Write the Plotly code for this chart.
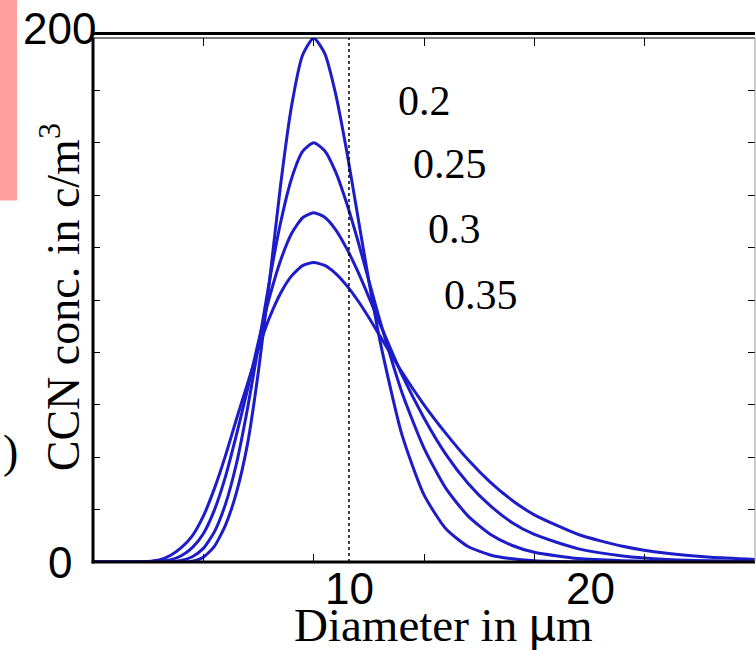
import plotly.graph_objects as go

# Diameter (x) and CCN concentration for the four sigma values
diameter = [0, 1, 2, 3, 3.5, 4, 4.5, 5, 5.5, 6, 6.5, 7, 7.5, 8, 8.5, 9, 9.5, 10,
            10.5, 11, 11.5, 12, 12.5, 13, 14, 15, 16, 17, 18, 19, 20, 22, 24, 26, 28, 30]
ccn_020 = [0, 0, 0, 0, 0, 0, 0.3, 1.8, 6.0, 14.0, 26.5, 45.0, 73.0, 107.3, 143.8, 174.1, 193.5, 200,
           194.1, 178.5, 156.7, 132.0, 107.3, 84.6, 48.6, 25.6, 12.6, 5.9, 2.7, 1.2, 0.5, 0.1, 0, 0, 0, 0]
ccn_025 = [0, 0, 0, 0, 0.1, 0.6, 2.0, 5.2, 11.5, 22.0, 37.5, 58.5, 82.5, 107.4, 129.5, 146.4, 156.7, 160,
           157.0, 148.8, 136.8, 122.7, 107.4, 92.2, 64.7, 43.5, 28.0, 17.5, 10.6, 6.3, 3.7, 1.3, 0.5, 0.2, 0, 0]
ccn_030 = [0, 0, 0, 0.2, 0.8, 2.4, 5.5, 10.8, 19.8, 32.5, 48.5, 65.8, 84.2, 101.1, 115.1, 125.4, 131.4, 133.3,
           131.6, 126.8, 119.6, 110.9, 101.1, 91.0, 71.5, 55.0, 41.0, 30.0, 21.5, 15.0, 10.5, 5.0, 2.3, 1.0, 0.5, 0.2]
ccn_035 = [0, 0, 0, 0.8, 2.5, 5.5, 10.0, 17.5, 28.0, 40.5, 54.5, 68.0, 81.5, 93.3, 102.6, 109.2, 113.1, 114.3,
           113.2, 110.1, 105.5, 99.8, 93.3, 86.3, 72.5, 60.0, 49.0, 39.0, 30.5, 23.5, 18.0, 10.5, 6.0, 3.3, 1.8, 1.0]

series = [ccn_020, ccn_025, ccn_030, ccn_035]
curve_labels = ["0.2", "0.25", "0.3", "0.35"]
label_x = [15.0, 16.2, 16.4, 17.6]
label_y = [176, 152, 127, 102]

x_ticks = [0, 5, 10, 15, 20, 25, 30]
x_tick_text = ["10", "20"]
x_tick_text_pos = [11.64, 22.55]
y_tick_text = ["0", "200"]
marker_x = 11.6

LINE = "#1c1cc8"
SERIF = "Liberation Serif, Times New Roman, serif"
SANS = "Liberation Sans, Arial, sans-serif"

fig = go.Figure()
for ys in series:
    fig.add_trace(go.Scatter(x=diameter, y=ys, mode="lines",
                             line=dict(color=LINE, width=3, shape="spline", smoothing=0.6),
                             showlegend=False, hoverinfo="skip"))

fig.update_layout(
    width=756, height=650,
    margin=dict(l=93, r=1, t=38, b=88),
    paper_bgcolor="white", plot_bgcolor="white",
    xaxis=dict(range=[0, 30], tickvals=x_ticks, showticklabels=False, ticks="inside",
               ticklen=8, tickwidth=1, tickcolor="black", showgrid=False, zeroline=False,
               showline=False, mirror="ticks"),
    yaxis=dict(range=[0, 200], dtick=20, showticklabels=False, ticks="inside",
               ticklen=7, tickwidth=1, tickcolor="black", showgrid=False, zeroline=False,
               showline=False, mirror="ticks"),
)

shapes = [
    # dotted marker line
    dict(type="line", xref="x", yref="y", x0=marker_x, x1=marker_x, y0=0, y1=200,
         line=dict(color="black", width=1.5, dash="dot")),
    # frame
    dict(type="line", xref="paper", yref="paper", x0=0, x1=0, y0=-0.003, y1=1,
         line=dict(color="black", width=3)),
    dict(type="line", xref="paper", yref="paper", x0=-0.002, x1=1, y0=0, y1=0,
         line=dict(color="black", width=3)),
    dict(type="line", xref="paper", yref="paper", x0=0, x1=1, y0=1, y1=1,
         line=dict(color="black", width=1.2)),
    dict(type="line", xref="paper", yref="paper", x0=-0.002, x1=1, y0=1.0085, y1=1.0085,
         line=dict(color="black", width=3)),
    dict(type="line", xref="paper", yref="paper", x0=1, x1=1, y0=0, y1=1,
         line=dict(color="#999999", width=1)),
    # pink strip at top-left
    dict(type="rect", xref="paper", yref="paper", x0=-0.1405, x1=-0.1148, y0=0.69, y1=1.08,
         fillcolor="#ff9f9f", line=dict(width=0), layer="below"),
]
fig.update_layout(shapes=shapes)

ann = []
for t, xx, yy in zip(curve_labels, label_x, label_y):
    ann.append(dict(x=xx, y=yy, xref="x", yref="y", text=t, showarrow=False,
                    font=dict(family=SERIF, size=42, color="black"),
                    xanchor="center", yanchor="middle"))
for t, xx in zip(x_tick_text, x_tick_text_pos):
    ann.append(dict(x=xx, y=0, xref="x", yref="y", text=t, showarrow=False,
                    font=dict(family=SANS, size=44, color="black"),
                    xanchor="center", yanchor="top", yshift=0))
ann.append(dict(x=-0.05, y=0, xref="paper", yref="y", text=y_tick_text[0], showarrow=False,
                font=dict(family=SANS, size=44, color="black"), xanchor="center", yanchor="middle"))
ann.append(dict(x=0.0076, y=200, xref="paper", yref="y", text=y_tick_text[1], showarrow=False,
                font=dict(family=SANS, size=44, color="black"), xanchor="right", yanchor="middle",
                yshift=10))
# axis titles
ann.append(dict(x=0.529, y=-0.12, xref="paper", yref="paper",
                text="Diameter in <span style='font-family:Liberation Sans, Arial'>µ</span>m",
                showarrow=False, font=dict(family=SERIF, size=47, color="black"),
                xanchor="center", yanchor="middle"))
ann.append(dict(x=-0.05, y=0.505, xref="paper", yref="paper", text="CCN conc. in c/m<sup>3</sup>",
                showarrow=False, textangle=-90, font=dict(family=SERIF, size=46, color="black"),
                xanchor="center", yanchor="middle"))
# clipped panel letter
ann.append(dict(x=-0.11, y=0.21, xref="paper", yref="paper", text=")", showarrow=False,
                font=dict(family=SERIF, size=46, color="black"), xanchor="right", yanchor="middle"))
fig.update_layout(annotations=ann)

fig.write_html("out.html")
